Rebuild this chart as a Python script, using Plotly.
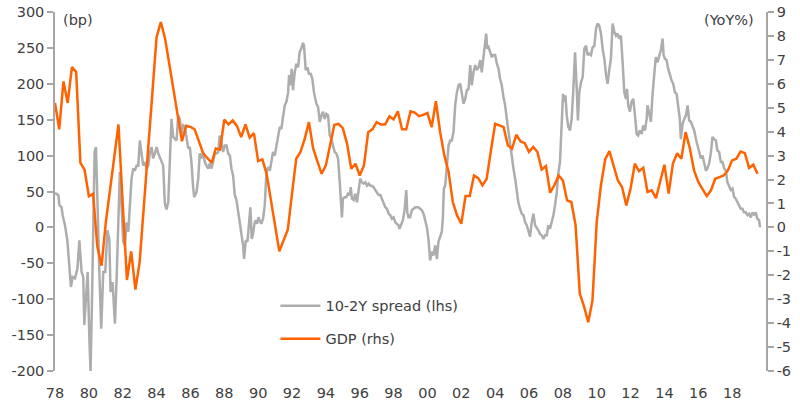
import plotly.graph_objects as go

# ------------------------------------------------------------
# data
# ------------------------------------------------------------
# 10-2Y spread (bp), roughly monthly, decimal years
spread_dates = [
    1978.00, 1978.20, 1978.26, 1978.39, 1978.45, 1978.59, 1978.73, 1978.85, 1978.94, 1979.04,
    1979.18, 1979.32, 1979.44, 1979.57, 1979.67, 1979.73, 1979.83, 1979.93, 1980.03, 1980.10,
    1980.18, 1980.26, 1980.34, 1980.42, 1980.52, 1980.62, 1980.73, 1980.85, 1980.97, 1981.09,
    1981.21, 1981.28, 1981.40, 1981.54, 1981.64, 1981.74, 1981.83, 1981.93, 1982.03, 1982.13,
    1982.23, 1982.33, 1982.42, 1982.52, 1982.62, 1982.72, 1982.82, 1982.92, 1983.01, 1983.11,
    1983.21, 1983.31, 1983.41, 1983.51, 1983.60, 1983.70, 1983.80, 1983.90, 1984.00, 1984.10,
    1984.29, 1984.39, 1984.49, 1984.59, 1984.69, 1984.78, 1984.88, 1984.98, 1985.08, 1985.18,
    1985.28, 1985.37, 1985.47, 1985.57, 1985.67, 1985.77, 1985.87, 1985.96, 1986.06, 1986.16,
    1986.22, 1986.36, 1986.46, 1986.55, 1986.65, 1986.75, 1986.85, 1986.95, 1987.05, 1987.14,
    1987.24, 1987.34, 1987.44, 1987.54, 1987.64, 1987.73, 1987.83, 1987.93, 1988.03, 1988.13,
    1988.23, 1988.33, 1988.42, 1988.52, 1988.62, 1988.72, 1988.82, 1988.92, 1989.01, 1989.11,
    1989.17, 1989.27, 1989.37, 1989.47, 1989.54, 1989.62, 1989.70, 1989.78, 1989.86, 1989.94,
    1990.02, 1990.09, 1990.19, 1990.29, 1990.39, 1990.49, 1990.59, 1990.69, 1990.78, 1990.88,
    1990.98, 1991.08, 1991.18, 1991.28, 1991.37, 1991.47, 1991.57, 1991.67, 1991.77, 1991.83,
    1991.91, 1991.98, 1992.06, 1992.16, 1992.26, 1992.36, 1992.45, 1992.55, 1992.65, 1992.71,
    1992.81, 1992.91, 1993.00, 1993.10, 1993.20, 1993.30, 1993.44, 1993.54, 1993.64, 1993.74,
    1993.83, 1993.93, 1994.03, 1994.13, 1994.23, 1994.33, 1994.42, 1994.52, 1994.62, 1994.72,
    1994.82, 1994.88, 1994.95, 1995.01, 1995.11, 1995.21, 1995.31, 1995.41, 1995.47, 1995.54,
    1995.64, 1995.74, 1995.84, 1995.96, 1996.03, 1996.13, 1996.23, 1996.33, 1996.43, 1996.53,
    1996.62, 1996.72, 1996.82, 1996.92, 1997.02, 1997.12, 1997.22, 1997.31, 1997.41, 1997.51,
    1997.61, 1997.71, 1997.81, 1997.90, 1998.00, 1998.10, 1998.20, 1998.29, 1998.35, 1998.45,
    1998.55, 1998.65, 1998.75, 1998.81, 1998.88, 1998.98, 1999.08, 1999.18, 1999.28, 1999.38,
    1999.47, 1999.57, 1999.67, 1999.77, 1999.87, 1999.97, 2000.06, 2000.16, 2000.26, 2000.36,
    2000.46, 2000.56, 2000.65, 2000.75, 2000.85, 2000.91, 2000.97, 2001.05, 2001.15, 2001.25,
    2001.34, 2001.44, 2001.54, 2001.64, 2001.74, 2001.84, 2001.94, 2002.03, 2002.13, 2002.23,
    2002.33, 2002.43, 2002.53, 2002.62, 2002.72, 2002.82, 2002.92, 2003.02, 2003.12, 2003.21,
    2003.31, 2003.37, 2003.47, 2003.53, 2003.61, 2003.71, 2003.80, 2003.90, 2004.00, 2004.10,
    2004.20, 2004.29, 2004.39, 2004.49, 2004.59, 2004.69, 2004.78, 2004.88, 2004.98, 2005.08,
    2005.18, 2005.27, 2005.37, 2005.47, 2005.57, 2005.67, 2005.77, 2005.87, 2005.96, 2006.06,
    2006.16, 2006.26, 2006.36, 2006.46, 2006.55, 2006.65, 2006.75, 2006.85, 2006.95, 2007.05,
    2007.14, 2007.24, 2007.34, 2007.44, 2007.54, 2007.64, 2007.74, 2007.83, 2007.89, 2007.95,
    2008.01, 2008.09, 2008.15, 2008.23, 2008.32, 2008.42, 2008.52, 2008.62, 2008.72, 2008.82,
    2008.89, 2008.97, 2009.07, 2009.17, 2009.27, 2009.37, 2009.46, 2009.56, 2009.66, 2009.76,
    2009.86, 2009.96, 2010.05, 2010.15, 2010.25, 2010.35, 2010.45, 2010.55, 2010.64, 2010.74,
    2010.84, 2010.94, 2011.04, 2011.14, 2011.23, 2011.33, 2011.43, 2011.53, 2011.63, 2011.73,
    2011.79, 2011.86, 2011.96, 2012.06, 2012.16, 2012.26, 2012.36, 2012.45, 2012.55, 2012.65,
    2012.75, 2012.85, 2012.95, 2013.00, 2013.10, 2013.20, 2013.30, 2013.40, 2013.49, 2013.59,
    2013.69, 2013.79, 2013.89, 2013.95, 2014.03, 2014.13, 2014.22, 2014.32, 2014.42, 2014.52,
    2014.62, 2014.72, 2014.81, 2014.91, 2014.97, 2015.07, 2015.17, 2015.27, 2015.37, 2015.46,
    2015.56, 2015.66, 2015.76, 2015.86, 2015.95, 2016.05, 2016.15, 2016.25, 2016.35, 2016.45,
    2016.54, 2016.64, 2016.74, 2016.84, 2016.94, 2017.04, 2017.13, 2017.23, 2017.33, 2017.43,
    2017.53, 2017.63, 2017.72, 2017.82, 2017.92, 2018.02, 2018.12, 2018.21, 2018.31, 2018.41,
    2018.51, 2018.61, 2018.70, 2018.80, 2018.90, 2019.00, 2019.10, 2019.20, 2019.29, 2019.39,
    2019.49, 2019.59, 2019.65,
]
spread_bp = [
    48, 45, 31, 28, 17, 3, -18, -62, -83, -69,
    -71, -58, -18, -62, -69, -136, -95, -62, -155, -201,
    -109, 12, 105, 112, 12, -62, -141, -62, -62, -4,
    -16, -90, -76, -134, -71, 28, 77, 31, -20, -25,
    7, -6, 35, 68, 82, 79, 86, 86, 121, 105,
    86, 91, 82, 86, 103, 112, 96, 103, 112, 103,
    91, 86, 33, 25, 35, 86, 151, 126, 123, 121,
    156, 151, 130, 142, 140, 126, 110, 112, 91, 56,
    42, 49, 68, 103, 96, 105, 91, 86, 82, 89,
    82, 91, 103, 103, 105, 128, 119, 105, 114, 114,
    103, 100, 82, 72, 45, 38, 21, 0, -11, -25,
    -44, -18, -20, 3, 28, -16, -9, 5, 10, 5,
    14, 10, 5, 12, 31, 77, 84, 79, 91, 105,
    100, 114, 130, 140, 137, 151, 170, 175, 188, 212,
    198, 221, 191, 216, 228, 223, 244, 249, 257, 253,
    219, 223, 214, 214, 207, 188, 172, 168, 147, 156,
    161, 151, 158, 156, 128, 123, 112, 105, 103, 96,
    63, 35, 14, 40, 42, 42, 47, 45, 56, 40,
    38, 47, 35, 56, 68, 63, 61, 63, 58, 61,
    58, 58, 56, 52, 49, 45, 45, 40, 35, 28,
    26, 19, 17, 12, 14, 7, 5, 3, -2, 3,
    10, 24, 52, 21, 14, 14, 24, 26, 28, 28,
    28, 26, 24, 19, 10, 0, -16, -46, -34, -39,
    -25, -44, -20, -13, -6, 12, 54, 58, 82, 114,
    121, 121, 133, 170, 188, 198, 200, 188, 172, 179,
    191, 193, 226, 198, 216, 226, 219, 223, 233, 216,
    235, 249, 270, 249, 251, 244, 237, 240, 240, 228,
    221, 207, 198, 182, 170, 151, 133, 114, 96, 82,
    68, 49, 35, 26, 19, 17, 7, 3, -6, -13,
    7, 19, 3, 0, -4, -9, -11, -16, -11, -11,
    3, -2, 7, 17, 31, 49, 77, 91, 123, 151,
    186, 175, 184, 156, 140, 135, 151, 193, 244, 193,
    149, 188, 202, 209, 249, 253, 240, 242, 240, 251,
    253, 277, 284, 281, 270, 249, 235, 212, 200, 219,
    235, 284, 272, 267, 270, 263, 267, 230, 188, 179,
    193, 170, 161, 175, 179, 156, 130, 128, 135, 130,
    142, 135, 151, 170, 156, 147, 186, 221, 237, 230,
    240, 247, 263, 240, 235, 233, 221, 212, 205, 200,
    188, 186, 172, 151, 123, 144, 151, 156, 170, 149,
    147, 142, 135, 123, 114, 105, 96, 100, 91, 79,
    82, 89, 103, 126, 123, 121, 107, 105, 91, 91,
    82, 79, 63, 58, 52, 54, 42, 40, 35, 31,
    26, 26, 21, 21, 17, 19, 14, 21, 17, 21,
    12, 10, 0,
]

# real GDP (YoY %), quarterly from 1978 Q1 to 2019 Q3
gdp_start = 1978.0
gdp_yoy = [
    5.2, 4.1, 6.1, 5.2, 6.7, 6.5, 2.7, 2.4, 1.3, 1.4, -0.8, -1.6,
    0.2, 1.6, 3.0, 4.3,
    1.0, -2.2, -1.0, -2.6, -1.45,
    0.8, 3.3, 5.6, 7.95, 8.58, 7.9, 6.8, 5.7, 4.6, 3.6,
    4.25, 4.2, 4.1, 3.6, 3.1, 2.9, 2.7, 3.3, 3.25, 4.5, 4.3,
    4.47, 4.23, 3.77, 4.3, 3.75, 3.94, 2.77, 2.84, 2.24, 1.2,
    0.05, -1.0, -0.55, -0.1, 1.4,
    2.87, 3.15, 3.7, 4.4, 3.3, 2.76, 2.24, 2.59, 3.47, 4.29,
    4.33, 4.15, 3.5, 2.45, 2.66, 2.17, 2.59, 3.98, 4.1, 4.4, 4.3, 4.3, 4.64, 4.51, 4.85,
    4.1, 4.1, 4.85, 4.8, 4.65, 4.7, 4.78, 4.19, 5.27,
    3.98, 3.0, 2.31, 1.06, 0.5, 0.15, 1.31, 1.31, 2.17, 2.06, 1.76, 2.03,
    3.2, 4.33, 4.26, 4.19, 3.43, 3.29, 3.87, 3.59, 3.52, 3.15, 3.36, 3.15,
    2.42, 2.56, 1.45, 1.76, 2.17, 1.96, 1.13, 1.06,
    0.1, -2.77, -3.3, -3.96, -3.05, 0.22, 1.76, 2.84, 3.19,
    2.6, 1.96, 1.68, 0.92, 1.62, 2.66, 2.35, 2.49, 1.48, 1.55, 1.22,
    1.9, 2.62, 1.41, 2.66, 3.1, 2.87, 3.98, 3.31, 2.38, 1.9, 1.6, 1.31,
    1.55, 2.03, 2.1, 2.17, 2.38, 2.8, 2.87, 3.17, 3.1, 2.49, 2.62, 2.24,
]
gdp_dates = [gdp_start + 0.25 * i for i in range(len(gdp_yoy))]

# axis ticks (plain hyphen for negatives, as in the original)
x_tickvals = list(range(1978, 2019, 2))
x_ticktext = [f"{y % 100:02d}" for y in x_tickvals]
lhs_ticks = list(range(-200, 301, 50))
lhs_text = [str(v) for v in lhs_ticks]
rhs_ticks = list(range(-6, 10))
rhs_text = [str(v) for v in rhs_ticks]

# ------------------------------------------------------------
# figure
# ------------------------------------------------------------
GREY = "#adadad"
ORANGE = "#ff6200"
AXIS = "#a6a6a6"
TEXT = "#404040"
FONT = "DejaVu Sans"

fig = go.Figure()
fig.add_trace(go.Scatter(
    x=spread_dates, y=spread_bp, name="10-2Y spread (lhs)", legendgroup="spread",
    mode="lines", line=dict(color=GREY, width=2.5), yaxis="y"
))
fig.add_trace(go.Scatter(
    x=gdp_dates, y=gdp_yoy, name="GDP (rhs)", legendgroup="gdp",
    mode="lines", line=dict(color=ORANGE, width=2.5), yaxis="y2"
))

fig.update_layout(
    template="none",
    width=800, height=414,
    margin=dict(l=55, r=34, t=12, b=43, autoexpand=False),
    paper_bgcolor="white", plot_bgcolor="white",
    font=dict(family=FONT, size=14, color=TEXT),
    showlegend=True,
    legend=dict(
        x=0.31, y=0.226, xanchor="left", yanchor="top",
        bgcolor="rgba(0,0,0,0)", font=dict(size=14.5, color=TEXT),
        tracegroupgap=11, itemwidth=40,
    ),
    xaxis=dict(
        range=[1978, 2020], tickvals=x_tickvals, ticktext=x_ticktext,
        showgrid=False, zeroline=False, showline=False, automargin=False,
        ticks="outside", ticklen=9, tickcolor="rgba(0,0,0,0)",
        tickfont=dict(size=14.5),
    ),
    # second x axis only draws the axis line and ticks along zero
    xaxis2=dict(
        overlaying="x", anchor="free", position=0.4,
        range=[1978, 2020], tickvals=x_tickvals, automargin=False,
        showticklabels=False, showgrid=False, zeroline=False,
        showline=True, linecolor=AXIS, linewidth=1.5,
        ticks="outside", ticklen=6, tickcolor=AXIS, tickwidth=1.5,
    ),
    yaxis=dict(
        range=[-200, 300], tickvals=lhs_ticks, ticktext=lhs_text, automargin=False,
        showgrid=False, zeroline=False,
        showline=True, linecolor=AXIS, linewidth=1.5,
        ticks="outside", ticklen=6, tickcolor=AXIS, tickwidth=1.5,
        tickfont=dict(size=14.5),
    ),
    yaxis2=dict(
        range=[-6, 9], tickvals=rhs_ticks, ticktext=rhs_text,
        overlaying="y", side="right",
        automargin=False, showgrid=False, zeroline=False,
        showline=True, linecolor=AXIS, linewidth=1.5,
        ticks="outside", ticklen=6, tickcolor=AXIS, tickwidth=1.5,
        tickfont=dict(size=14.5),
    ),
    annotations=[
        dict(text="(bp)", xref="paper", yref="paper", x=0.008, y=0.978,
             xanchor="left", yanchor="middle", showarrow=False,
             font=dict(size=14.5, color=TEXT)),
        dict(text="(YoY%)", xref="paper", yref="paper", x=0.986, y=0.978,
             xanchor="right", yanchor="middle", showarrow=False,
             font=dict(size=14.5, color=TEXT)),
    ],
)

# drop the default page margin so the 800x414 figure fills the window
fig.write_html(
    "out.html",
    config={"displayModeBar": False},
    post_script="document.body.style.margin='0';document.body.style.overflow='hidden';",
)
